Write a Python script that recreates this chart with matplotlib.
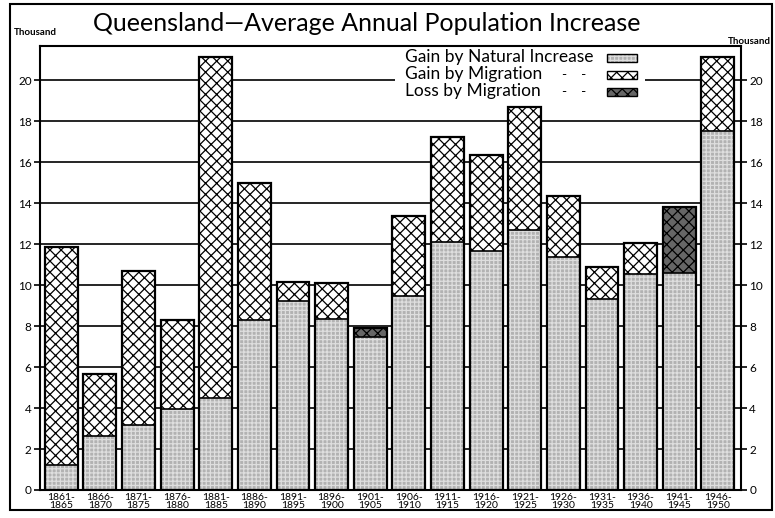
import matplotlib
matplotlib.use("Agg")
import matplotlib.pyplot as plt
from matplotlib.patches import Rectangle

# Five-year periods and average annual increase (thousand persons)
periods = ["1861-\n1865", "1866-\n1870", "1871-\n1875", "1876-\n1880", "1881-\n1885",
           "1886-\n1890", "1891-\n1895", "1896-\n1900", "1901-\n1905", "1906-\n1910",
           "1911-\n1915", "1916-\n1920", "1921-\n1925", "1926-\n1930", "1931-\n1935",
           "1936-\n1940", "1941-\n1945", "1946-\n1950"]
natural = [1.2, 2.64, 3.17, 3.95, 4.5, 8.3, 9.2, 8.35, 7.9, 9.45,
           12.1, 11.65, 12.7, 11.38, 9.33, 10.52, 13.8, 17.5]
# positive = gain by migration, negative = loss by migration
migration = [10.65, 3.0, 7.52, 4.34, 16.63, 6.67, 0.95, 1.75, -0.45, 3.9,
             5.1, 4.7, 6.0, 2.95, 1.57, 1.54, -3.2, 3.63]
yticks = list(range(0, 21, 2))

W, H = 775, 518
plt.rcParams['font.family'] = ['Lato', 'DejaVu Sans']
plt.rcParams['hatch.linewidth'] = 0.9


def fx(px):
    return px / W


def fy(py):
    return 1 - py / H


fig = plt.figure(figsize=(W / 100, H / 100), dpi=100)
ax = fig.add_axes([fx(40), fy(490), (741 - 40) / W, (490 - 46) / H])

x = list(range(len(periods)))
gain = [max(m, 0) for m in migration]
loss = [max(-m, 0) for m in migration]
net = [n - l for n, l in zip(natural, loss)]
tops = [n + g for n, g in zip(natural, gain)]
bw = 0.85

NAT_FACE, NAT_HATCH = '#b2b2b2', '#dedede'
LOSS_FACE = '#666666'

ax.bar(x, net, width=bw, color=NAT_FACE, edgecolor=NAT_HATCH, hatch='++++', lw=0, zorder=2)
ax.bar(x, gain, bottom=natural, width=bw, color='white', edgecolor='black', hatch='xxx', lw=0, zorder=2)
ax.bar(x, loss, bottom=net, width=bw, color=LOSS_FACE, edgecolor='black', hatch='xxx', lw=0, zorder=2)
ax.bar(x, tops, width=bw, fill=False, edgecolor='black', lw=1.6, zorder=3)
ax.hlines(net, [i - bw / 2 for i in x], [i + bw / 2 for i in x], colors='black', lw=1.2, zorder=3)

ax.set_xlim(-0.55, 17.6)
ax.set_ylim(0, 21.66)
ax.set_yticks(yticks)
ax.set_xticks(x, periods)
ax.yaxis.grid(True, color='black', lw=1.2)
ax.set_axisbelow(True)
ax.tick_params(axis='y', left=True, right=True, labelleft=True, labelright=True,
               length=4, width=1.2, labelsize=8.5, pad=2)
ax.tick_params(axis='x', length=0, labelsize=7.5, pad=2)
for lab in ax.get_xticklabels():
    lab.set_linespacing(0.95)
for sp in ax.spines.values():
    sp.set_linewidth(1.5)

# legend block (white panel over the grid)
ax.add_patch(Rectangle((0.506, 0.867), 0.357, 0.133, transform=ax.transAxes,
                       facecolor='white', edgecolor='none', zorder=1))
rows = [("Gain by Natural Increase", NAT_FACE, NAT_HATCH, '++++', ""),
        ("Gain by Migration", 'white', 'black', 'xxx', "-    -"),
        ("Loss by Migration", LOSS_FACE, 'black', 'xxx', "-    -")]
for k, (label, face, hcol, hatch, leader) in enumerate(rows):
    base = 62 + 17 * k
    fig.text(fx(405), fy(base), label, fontsize=12.5, va='baseline')
    if leader:
        fig.text(fx(562), fy(base), leader, fontsize=10, va='baseline')
    fig.add_artist(Rectangle((fx(607), fy(base)), 30 / W, 8 / H, transform=fig.transFigure,
                             facecolor=face, edgecolor=hcol, hatch=hatch, lw=0))
    fig.add_artist(Rectangle((fx(607), fy(base)), 30 / W, 8 / H, transform=fig.transFigure,
                             fill=False, edgecolor='black', lw=1))

fig.text(fx(367), fy(31), "Queensland\u2014Average Annual Population Increase",
         fontsize=18, ha='center', va='baseline')
fig.text(fx(14), fy(35), "Thousand", fontsize=7, weight='bold', va='baseline')
fig.text(fx(728), fy(44), "Thousand", fontsize=7, weight='bold', va='baseline')

fig.add_artist(Rectangle((fx(10), fy(510)), (772 - 10) / W, (510 - 4) / H,
                         transform=fig.transFigure, fill=False, edgecolor='black', lw=1.5))

fig.savefig("out.png", dpi=100)
